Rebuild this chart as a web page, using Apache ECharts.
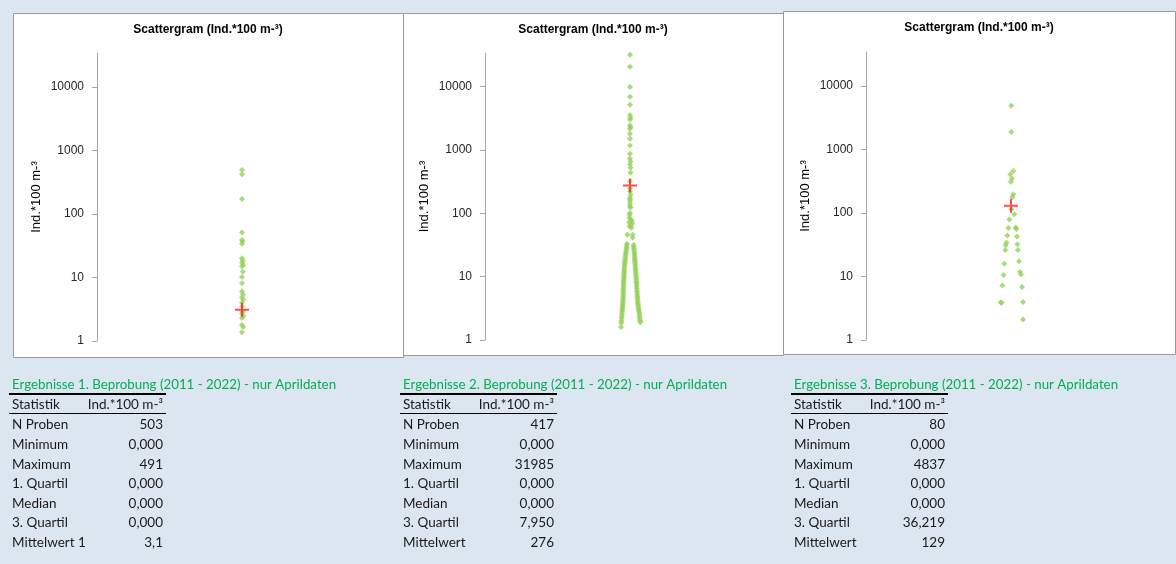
<!DOCTYPE html>
<html>
<head>
<meta charset="utf-8">
<script src="https://cdn.jsdelivr.net/npm/echarts@6/dist/echarts.min.js"></script>
<style>
  html, body { margin: 0; padding: 0; background: #dce6f1; }
  #chart { width: 1176px; height: 564px; }
</style>
</head>
<body>
<div id="chart"></div>
<script>
// ---- data -------------------------------------------------------------
const chartTitle = 'Scattergram (Ind.*100 m-³)';
const axisName = 'Ind.*100 m-³';
const yTicks = [1, 10, 100, 1000, 10000];

// 1. Beprobung: individual samples (Ind.*100 m-³) and horizontal jitter
const p1Values = [491, 420, 171, 51, 39, 37, 34, 20, 18.5, 17,
                  15.7, 15, 12.3, 10.2, 8.1, 6.0, 5.4, 4.9, 4.5, 4.0,
                  3.5, 2.9, 2.7, 2.5, 2.3, 1.78, 1.66, 1.37];
const p1Jitter = [0, 0, 0, 0, 0, 0.004, 0, 0, 0.006, 0,
                  0.008, 0, 0.006, 0, 0, 0, 0.006, 0, 0.008, 0,
                  0, 0.006, 0, 0.008, 0, 0, 0.008, 0];

// 2. Beprobung: high values, then the two low-value branches
const p2UpperValues = [31985, 20700, 9860, 6950, 5190, 3550, 3230, 3040, 2440, 2300,
                       2160, 1800, 1500, 1180, 870, 725, 657, 590, 523, 436,
                       320, 250, 223, 197, 177, 165, 155, 141, 129, 122,
                       101, 95, 85, 80, 76, 72, 69, 65, 62, 59,
                       46, 46, 41];
const p2UpperJitter = [0, 0, 0, 0, 0, 0, 0.004, 0, 0, 0.004,
                       0, 0, 0, 0, 0, 0, 0.004, 0, 0.004, 0.004,
                       0, 0, 0, 0.004, 0, 0, 0, 0, 0, 0.004,
                       0, -0.003, -0.004, 0.006, 0.012, -0.006, 0.015, 0.004, -0.002, 0.01,
                       -0.018, 0.018, 0.018];
const p2LeftValues = [33, 31, 29, 27, 25, 23.5, 22, 20.5, 19, 18,
                      17, 16, 15, 14, 13, 12.2, 11.5, 10.8, 10, 9.4,
                      8.8, 8.2, 7.7, 7.2, 6.7, 6.2, 5.8, 5.4, 5.0, 4.7,
                      4.4, 4.1, 3.8, 3.6, 3.4, 3.2, 3.0, 2.8, 2.6, 2.4,
                      2.2, 2.0, 1.85, 1.6];
const p2LeftJitter = [-0.021, -0.022, -0.024, -0.025, -0.027, -0.028, -0.030, -0.031, -0.033, -0.034,
                      -0.035, -0.036, -0.038, -0.039, -0.040, -0.040, -0.041, -0.041, -0.042, -0.042,
                      -0.043, -0.044, -0.044, -0.045, -0.045, -0.046, -0.046, -0.047, -0.047, -0.048,
                      -0.048, -0.049, -0.050, -0.050, -0.051, -0.052, -0.053, -0.054, -0.055, -0.056,
                      -0.058, -0.059, -0.060, -0.062];
const p2RightValues = [32, 30, 28, 26, 24, 22.5, 21, 19.5, 18.5, 17.5,
                       16.5, 15.5, 14.5, 13.5, 12.6, 11.8, 11.1, 10.4, 9.7, 9.1,
                       8.5, 8.0, 7.5, 7.0, 6.5, 6.0, 5.6, 5.2, 4.85, 4.55,
                       4.25, 3.95, 3.7, 3.5, 3.3, 3.1, 2.9, 2.7, 2.5, 2.3,
                       2.15, 2.0, 1.9];
const p2RightJitter = [0.025, 0.026, 0.027, 0.028, 0.030, 0.031, 0.031, 0.033, 0.033, 0.034,
                       0.035, 0.036, 0.037, 0.038, 0.039, 0.040, 0.040, 0.041, 0.042, 0.043,
                       0.044, 0.045, 0.046, 0.046, 0.047, 0.048, 0.049, 0.050, 0.051, 0.052,
                       0.052, 0.054, 0.055, 0.057, 0.058, 0.060, 0.061, 0.063, 0.065, 0.066,
                       0.068, 0.070, 0.071];

// 3. Beprobung
const p3Values = [4837, 1870, 457, 405, 347, 308, 195, 178, 114, 95,
                  78.5, 58, 59, 56, 44, 42.5, 34, 31, 32, 26,
                  26, 17.4, 15.8, 11.8, 10.7, 10.5, 6.8, 7.2, 3.9, 3.85,
                  3.95, 2.1];
const p3Jitter = [0.002, 0.002, 0.016, -0.005, 0.007, 0, 0.016, 0.009, 0.003, 0.023,
                  -0.011, -0.018, 0.032, 0.037, -0.025, 0.041, -0.032, -0.037, 0.044, -0.039,
                  0.048, 0.055, -0.046, 0.062, 0.069, -0.051, 0.076, -0.060, -0.071, -0.064,
                  0.083, 0.083];

// summary tables
const tableTitles = [
  'Ergebnisse 1. Beprobung (2011 - 2022) - nur Aprildaten',
  'Ergebnisse 2. Beprobung (2011 - 2022) - nur Aprildaten',
  'Ergebnisse 3. Beprobung (2011 - 2022) - nur Aprildaten'
];
const tableHeader = ['Statistik', 'Ind.*100 m-³'];
const statLabels1 = ['N Proben', 'Minimum', 'Maximum', '1. Quartil', 'Median', '3. Quartil', 'Mittelwert 1'];
const statLabels = ['N Proben', 'Minimum', 'Maximum', '1. Quartil', 'Median', '3. Quartil', 'Mittelwert'];
const stats1 = ['503', '0,000', '491', '0,000', '0,000', '0,000', '3,1'];
const stats2 = ['417', '0,000', '31985', '0,000', '0,000', '7,950', '276'];
const stats3 = ['80', '0,000', '4837', '0,000', '0,000', '36,219', '129'];

// ---- assembly ---------------------------------------------------------
const groups = [
  { values: p1Values, jitter: p1Jitter, labels: statLabels1, stats: stats1 },
  { values: p2UpperValues.concat(p2LeftValues, p2RightValues),
    jitter: p2UpperJitter.concat(p2LeftJitter, p2RightJitter), labels: statLabels, stats: stats2 },
  { values: p3Values, jitter: p3Jitter, labels: statLabels, stats: stats3 }
];

// layout of the three framed panels and their plot areas
const panels = [
  { x: 13, y: 13, w: 390, h: 344, gridLeft: 97, gridTop: 53, gridH: 288, titleY: 30 },
  { x: 403, y: 13, w: 380, h: 342, gridLeft: 485, gridTop: 53, gridH: 287, titleY: 30 },
  { x: 783, y: 11, w: 392, h: 343, gridLeft: 866, gridTop: 52, gridH: 288, titleY: 28 }
];
const tableLayout = [ { x: 9 }, { x: 400 }, { x: 791 } ];
const tableWidth = 157;

const axisColor = '#a6a6a6';
const pointColor = '#95d25a';
const meanColor = '#ff2020';
const labelFont = 'Liberation Sans, Arial, sans-serif';
const tableFont = 'Lato, Open Sans, sans-serif';
const tableTitleSize = '13.3px ';
const tableSize = '13.5px ';

const grid = [], xAxis = [], yAxis = [], series = [], graphic = [];

panels.forEach((p, i) => {
  graphic.push({
    type: 'rect', z: -10,
    shape: { x: p.x + 0.5, y: p.y + 0.5, width: p.w, height: p.h },
    style: { fill: '#ffffff', stroke: '#9a9a9a', lineWidth: 1 }
  });
  graphic.push({
    type: 'text', z: 10,
    x: p.x + p.w / 2, y: p.titleY,
    style: {
      text: chartTitle, align: 'center', verticalAlign: 'middle',
      font: 'bold 12px ' + labelFont, fill: '#000000'
    }
  });

  grid.push({ left: p.gridLeft, top: p.gridTop, width: 290, height: p.gridH });
  xAxis.push({ type: 'value', gridIndex: i, min: 0, max: 2, show: false });
  yAxis.push({
    type: 'log', logBase: 10, gridIndex: i, min: 1, max: 34000,
    axisLine: { show: true, lineStyle: { color: axisColor, width: 1 } },
    axisTick: { show: true, length: 5, customValues: yTicks, lineStyle: { color: axisColor } },
    axisLabel: {
      customValues: yTicks, margin: 13, color: '#262626',
      fontFamily: labelFont, fontSize: 12,
      formatter: v => String(Math.round(v))
    },
    splitLine: { show: false },
    name: axisName, nameLocation: 'middle', nameGap: 54, nameRotate: 90,
    nameTextStyle: { fontFamily: labelFont, fontSize: 13, color: '#000000' }
  });

  const g = groups[i];
  series.push({
    type: 'scatter', xAxisIndex: i, yAxisIndex: i,
    symbol: 'diamond', symbolSize: 6,
    itemStyle: { color: pointColor },
    data: g.values.map((v, k) => [1 + g.jitter[k], v]),
    silent: true, z: 2
  });
  const mean = parseFloat(g.stats[6].replace(',', '.'));
  series.push({
    type: 'scatter', xAxisIndex: i, yAxisIndex: i,
    symbol: 'path://M0,6H14V8H0ZM6,0H8V14H6Z', symbolSize: 14, symbolKeepAspect: true,
    itemStyle: { color: meanColor },
    data: [[1, mean]],
    silent: true, z: 3
  });

  // summary table below the panel
  const t = tableLayout[i];
  const left = t.x, right = t.x + tableWidth;
  graphic.push({
    type: 'text', x: left + 3, y: 385,
    style: { text: tableTitles[i], verticalAlign: 'middle', font: tableTitleSize + tableFont, fill: '#00b050' }
  });
  graphic.push({ type: 'line', shape: { x1: left, y1: 394, x2: right, y2: 394 },
                 style: { stroke: '#000000', lineWidth: 2 } });
  graphic.push({
    type: 'text', x: left + 3, y: 405,
    style: { text: tableHeader[0], verticalAlign: 'middle', font: tableSize + tableFont, fill: '#1a1a1a' }
  });
  graphic.push({
    type: 'text', x: right - 3, y: 405,
    style: { text: tableHeader[1], align: 'right', verticalAlign: 'middle', font: tableSize + tableFont, fill: '#1a1a1a' }
  });
  graphic.push({ type: 'line', shape: { x1: left, y1: 413.5, x2: right, y2: 413.5 },
                 style: { stroke: '#000000', lineWidth: 1 } });
  g.labels.forEach((lab, r) => {
    const y = 425 + r * 19.6;
    graphic.push({
      type: 'text', x: left + 3, y: y,
      style: { text: lab, verticalAlign: 'middle', font: tableSize + tableFont, fill: '#1a1a1a' }
    });
    graphic.push({
      type: 'text', x: right - 3, y: y,
      style: { text: g.stats[r], align: 'right', verticalAlign: 'middle', font: tableSize + tableFont, fill: '#1a1a1a' }
    });
  });
});

const chart = echarts.init(document.getElementById('chart'), null, { renderer: 'canvas' });
chart.setOption({
  backgroundColor: '#dce6f1',
  animation: false,
  grid, xAxis, yAxis, series, graphic
});
</script>
</body>
</html>
